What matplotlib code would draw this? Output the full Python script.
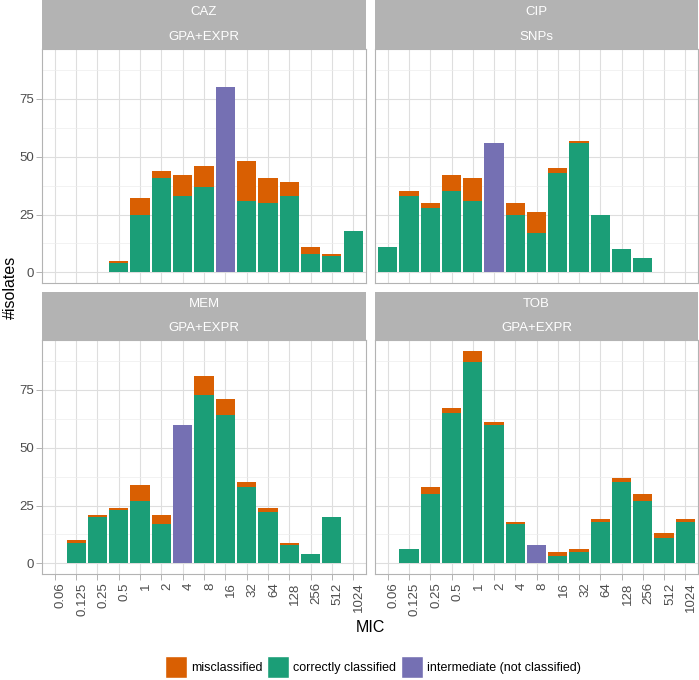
import numpy as np
import matplotlib
matplotlib.use("Agg")
import matplotlib.pyplot as plt
from matplotlib.patches import Patch

plt.rcParams["font.family"] = ["Liberation Sans", "DejaVu Sans"]

W, H = 699, 680

mic = ["0.06", "0.125", "0.25", "0.5", "1", "2", "4", "8", "16", "32", "64", "128", "256", "512", "1024"]

drugs = ["CAZ", "CIP", "MEM", "TOB"]
methods = ["GPA+EXPR", "SNPs", "GPA+EXPR", "GPA+EXPR"]

caz_correct = [0, 0, 0, 4, 25, 41, 33, 37, 0, 31, 30, 33, 8, 7, 18]
caz_mis     = [0, 0, 0, 1, 7, 3, 9, 9, 0, 17, 11, 6, 3, 1, 0]
caz_inter   = [0, 0, 0, 0, 0, 0, 0, 0, 80, 0, 0, 0, 0, 0, 0]

cip_correct = [11, 33, 28, 35, 31, 0, 25, 17, 43, 56, 25, 10, 6, 0, 0]
cip_mis     = [0, 2, 2, 7, 10, 0, 5, 9, 2, 1, 0, 0, 0, 0, 0]
cip_inter   = [0, 0, 0, 0, 0, 56, 0, 0, 0, 0, 0, 0, 0, 0, 0]

mem_correct = [0, 9, 20, 23, 27, 17, 0, 73, 64, 33, 22, 8, 4, 20, 0]
mem_mis     = [0, 1, 1, 1, 7, 4, 0, 8, 7, 2, 2, 1, 0, 0, 0]
mem_inter   = [0, 0, 0, 0, 0, 0, 60, 0, 0, 0, 0, 0, 0, 0, 0]

tob_correct = [0, 6, 30, 65, 87, 60, 17, 0, 3, 5, 18, 35, 27, 11, 18]
tob_mis     = [0, 0, 3, 2, 5, 1, 1, 0, 2, 1, 1, 2, 3, 2, 1]
tob_inter   = [0, 0, 0, 0, 0, 0, 0, 8, 0, 0, 0, 0, 0, 0, 0]

data = [
    (caz_correct, caz_mis, caz_inter),
    (cip_correct, cip_mis, cip_inter),
    (mem_correct, mem_mis, mem_inter),
    (tob_correct, tob_mis, tob_inter),
]

C_MIS, C_OK, C_INT = "#D95F02", "#1B9E77", "#7570B3"
GREY70 = "#B3B3B3"


def rect(x0, y0, x1, y1):
    # pixel box (top-left origin) -> figure fraction
    return [x0 / W, 1 - y1 / H, (x1 - x0) / W, (y1 - y0) / H]


fig = plt.figure(figsize=(W / 100, H / 100), dpi=100)

cols = [(42, 366), (375, 698)]
rows = [(0, 49, 283), (292, 340, 574)]  # strip top, panel top, panel bottom

x = np.arange(len(mic))
for i, (ok, mis, inter) in enumerate(data):
    r, c = divmod(i, 2)
    x0, x1 = cols[c]
    st, pt, pb = rows[r]

    # strip
    sax = fig.add_axes(rect(x0, st, x1, pt))
    sax.set_facecolor(GREY70)
    sax.set_xticks([]); sax.set_yticks([])
    for s in sax.spines.values():
        s.set_visible(False)
    sax.text(0.5, 0.75, drugs[i], color="white", ha="center", va="center", fontsize=9.5, transform=sax.transAxes)
    sax.text(0.5, 0.25, methods[i], color="white", ha="center", va="center", fontsize=9.5, transform=sax.transAxes)

    ax = fig.add_axes(rect(x0, pt, x1, pb))
    ok = np.array(ok); mis = np.array(mis); inter = np.array(inter)
    m = ok + mis > 0
    ax.bar(x[m], ok[m], width=0.9, color=C_OK, zorder=3)
    m2 = mis > 0
    ax.bar(x[m2], mis[m2], bottom=ok[m2], width=0.9, color=C_MIS, zorder=3)
    m3 = inter > 0
    ax.bar(x[m3], inter[m3], width=0.9, color=C_INT, zorder=3)

    ax.set_xlim(-0.6, len(mic) - 0.4)
    ax.set_ylim(-4.6, 96.6)
    ax.set_yticks([0, 25, 50, 75])
    ax.set_yticks([12.5, 37.5, 62.5, 87.5], minor=True)
    ax.set_xticks(x)
    ax.grid(True, which="major", color="#DEDEDE", lw=0.8, zorder=0)
    ax.grid(True, which="minor", axis="y", color="#EDEDED", lw=0.5, zorder=0)
    for s in ax.spines.values():
        s.set_color(GREY70)
        s.set_linewidth(0.8)
    ax.tick_params(which="minor", length=0)
    ax.tick_params(which="major", color=GREY70, length=4, width=0.7,
                   labelsize=9.5, labelcolor="#4D4D4D", pad=2)

    if c == 0:
        ax.set_yticklabels(["0", "25", "50", "75"])
    else:
        ax.tick_params(axis="y", left=False, labelleft=False)
    if r == 1:
        ax.set_xticklabels(mic, rotation=90, ha="left", va="top")
    else:
        ax.tick_params(axis="x", bottom=False, labelbottom=False)

fig.text(10 / W, 1 - 287 / H, "#isolates", rotation=90, ha="center", va="center", fontsize=11.5)
fig.text(370 / W, 1 - 627 / H, "MIC", ha="center", va="center", fontsize=11.5)

handles = [Patch(facecolor=C_MIS, edgecolor="white"),
           Patch(facecolor=C_OK, edgecolor="white"),
           Patch(facecolor=C_INT, edgecolor="white")]
labels = ["misclassified", "correctly classified", "intermediate (not classified)"]
fig.legend(handles, labels, loc="center", bbox_to_anchor=(373 / W, 1 - 667 / H), ncol=3,
           frameon=False, fontsize=9, handlelength=1.75, handleheight=2.35,
           handletextpad=0.32, columnspacing=0.4, borderpad=0)

fig.savefig("out.png", dpi=100)
